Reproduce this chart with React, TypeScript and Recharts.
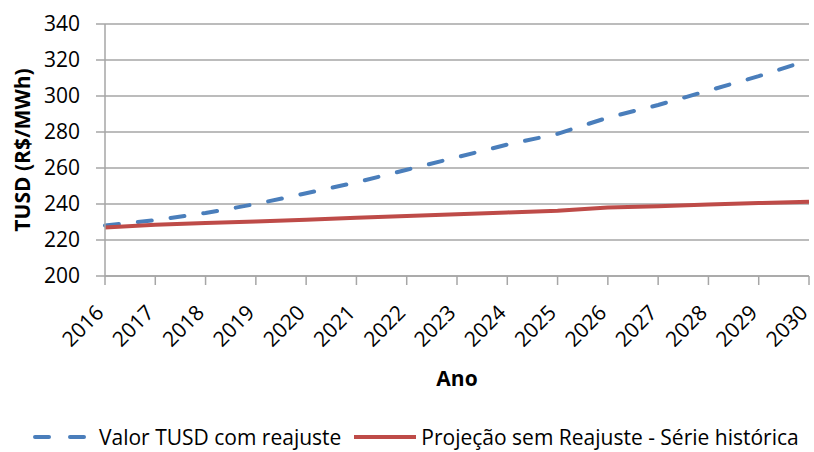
import { LineChart, Line, XAxis, YAxis, CartesianGrid, Legend, Label } from "recharts";

const anos = ["2016", "2017", "2018", "2019", "2020", "2021", "2022", "2023", "2024", "2025", "2026", "2027", "2028", "2029", "2030"];
const comReajuste = [228, 231, 235, 240, 246, 252, 259, 266, 273, 279, 288, 295, 303, 311, 320];
const semReajuste = [227, 228.5, 229.5, 230.3, 231.2, 232.3, 233.3, 234.3, 235.3, 236.2, 238, 238.8, 239.7, 240.5, 241.3];
const yTicks = [200, 220, 240, 260, 280, 300, 320, 340];

const BLUE = "#4a7ebb";
const RED = "#be4b48";
const GRID = "#a6a6a6";
const FONT = "'Open Sans', sans-serif";

const data = anos.map((ano, i) => ({
  ano,
  comReajuste: comReajuste[i],
  semReajuste: semReajuste[i],
}));

function YearTick({ x, y, payload }: any) {
  const ax = x;
  const ay = y + 27;
  return (
    <text
      x={ax}
      y={ay}
      transform={`rotate(-45, ${ax}, ${ay})`}
      textAnchor="end"
      fill="#000"
      fontSize={21}
      fontFamily={FONT}
    >
      {payload.value}
    </text>
  );
}

function YLabel({ viewBox }: any) {
  const cx = viewBox.x + 22;
  const cy = viewBox.y + viewBox.height / 2;
  return (
    <text
      x={cx}
      y={cy}
      transform={`rotate(-90, ${cx}, ${cy})`}
      textAnchor="middle"
      dominantBaseline="central"
      fontWeight="bold"
      fontSize={21}
      fontFamily={FONT}
      fill="#000"
    >
      TUSD (R$/MWh)
    </text>
  );
}

function LegendBox() {
  return (
    <div
      style={{
        height: 30,
        lineHeight: "30px",
        display: "flex",
        alignItems: "center",
        paddingLeft: 33,
        fontFamily: FONT,
        fontSize: 21,
        color: "#000",
        whiteSpace: "nowrap",
      }}
    >
      <svg width={56} height={10} style={{ marginRight: 10 }}>
        <line x1={2} y1={5} x2={51} y2={5} stroke={BLUE} strokeWidth={4} strokeLinecap="round" strokeDasharray="14 21" />
      </svg>
      <span>Valor TUSD com reajuste</span>
      <svg width={64} height={10} style={{ marginLeft: 12, marginRight: 4 }}>
        <line x1={1} y1={5} x2={63} y2={5} stroke={RED} strokeWidth={4} />
      </svg>
      <span>Projeção sem Reajuste - Série histórica</span>
    </div>
  );
}

export default function App() {
  return (
    <div style={{ position: "absolute", left: 0, top: 0, background: "#fff" }}>
      <LineChart
        width={814}
        height={452}
        data={data}
        margin={{ top: 24, right: 5, bottom: 0, left: 0 }}
      >
        <CartesianGrid vertical={false} stroke={GRID} strokeWidth={1.5} />
        <XAxis
          dataKey="ano"
          height={146}
          interval={0}
          tick={<YearTick />}
          tickSize={9}
          axisLine={{ stroke: GRID, strokeWidth: 1.5 }}
          tickLine={{ stroke: GRID, strokeWidth: 1.5 }}
        >
          <Label
            value="Ano"
            position="insideBottom"
            offset={36}
            style={{ fontWeight: "bold", fontSize: 21, fontFamily: FONT, fill: "#000" }}
          />
        </XAxis>
        <YAxis
          width={105}
          domain={[200, 340]}
          ticks={yTicks}
          interval={0}
          tickSize={9}
          tickMargin={16}
          axisLine={{ stroke: GRID, strokeWidth: 1.5 }}
          tickLine={{ stroke: GRID, strokeWidth: 1.5 }}
          tick={{ fill: "#000", fontSize: 21, fontFamily: FONT }}
        >
          <Label content={<YLabel />} />
        </YAxis>
        <Legend verticalAlign="bottom" content={<LegendBox />} />
        <Line
          type="linear"
          dataKey="comReajuste"
          name="Valor TUSD com reajuste"
          stroke={BLUE}
          strokeWidth={4}
          strokeDasharray="14 19"
          strokeLinecap="round"
          dot={false}
          isAnimationActive={false}
        />
        <Line
          type="linear"
          dataKey="semReajuste"
          name="Projeção sem Reajuste - Série histórica"
          stroke={RED}
          strokeWidth={4}
          dot={false}
          isAnimationActive={false}
        />
      </LineChart>
    </div>
  );
}
